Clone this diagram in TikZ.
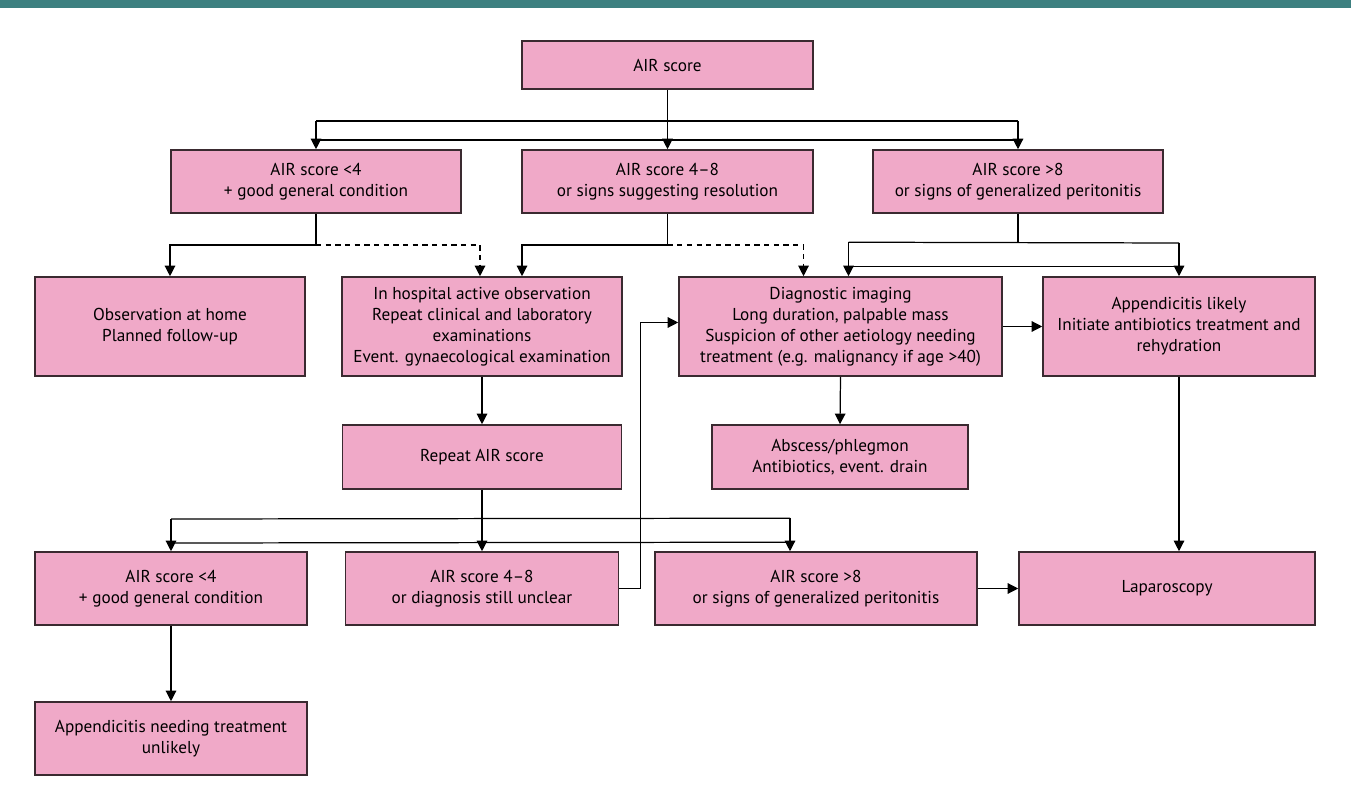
\documentclass[tikz,border=0pt]{standalone}
\usepackage{fontspec}
\setmainfont{PT Sans}
\usepackage{xcolor}
\definecolor{boxpink}{HTML}{F0A9C8}
\definecolor{boxline}{HTML}{3A2A30}
\definecolor{bartea}{HTML}{3D8080}
\usetikzlibrary{arrows.meta, calc, positioning}

\tikzset{
  box/.style={draw=boxline, fill=boxpink, line width=0.9pt, align=center, inner sep=2pt, font=\fontsize{9.8}{12}\selectfont},
  link/.style={line width=0.7pt, -{Triangle[length=6pt,width=6pt]}},
  bar/.style={line width=0.7pt},
  dashlink/.style={link, dash pattern=on 3pt off 2.5pt}
}

\begin{document}
\begin{tikzpicture}[x=0.02cm, y=-0.02cm]
  \useasboundingbox (0,0) rectangle (1351,803);
  % header bar
  \fill[bartea] (0,0) rectangle (1351,8);

  % boxes
  \node[box, minimum width=291*0.02cm, minimum height=48*0.02cm] (top) at (667.5,65) {AIR score};

  \node[box, minimum width=290*0.02cm, minimum height=63*0.02cm] (lowA) at (316,181.5) {AIR score <4\\+ good general condition};
  \node[box, minimum width=291*0.02cm, minimum height=63*0.02cm] (midA) at (667.5,181.5) {AIR score 4--8\\or signs suggesting resolution};
  \node[box, minimum width=290*0.02cm, minimum height=63*0.02cm] (highA) at (1018,181.5) {AIR score >8\\or signs of generalized peritonitis};

  \node[box, minimum width=270*0.02cm, minimum height=99*0.02cm] (home) at (170,326.5) {Observation at home\\Planned follow-up};
  \node[box, minimum width=280*0.02cm, minimum height=99*0.02cm] (hosp) at (482,326.5) {In hospital active observation\\Repeat clinical and laboratory\\examinations\\Event. gynaecological examination};
  \node[box, minimum width=323*0.02cm, minimum height=99*0.02cm] (imag) at (840.5,326.5) {Diagnostic imaging\\Long duration, palpable mass\\Suspicion of other aetiology needing\\treatment (e.g. malignancy if age >40)};
  \node[box, minimum width=272*0.02cm, minimum height=99*0.02cm] (likely) at (1179,326.5) {Appendicitis likely\\Initiate antibiotics treatment and\\rehydration};

  \node[box, minimum width=279*0.02cm, minimum height=64*0.02cm] (repeat) at (482,457) {Repeat AIR score};
  \node[box, minimum width=256*0.02cm, minimum height=64*0.02cm] (absc) at (840,457) {Abscess/phlegmon\\Antibiotics, event. drain};

  \node[box, minimum width=272*0.02cm, minimum height=73*0.02cm] (lowB) at (171,588.5) {AIR score <4\\+ good general condition};
  \node[box, minimum width=273*0.02cm, minimum height=73*0.02cm] (midB) at (482,588.5) {AIR score 4--8\\or diagnosis still unclear};
  \node[box, minimum width=322*0.02cm, minimum height=73*0.02cm] (highB) at (816,588.5) {AIR score >8\\or signs of generalized peritonitis};
  \node[box, minimum width=296*0.02cm, minimum height=73*0.02cm] (lap) at (1167,588.5) {Laparoscopy};

  \node[box, minimum width=272*0.02cm, minimum height=73*0.02cm] (unlik) at (171,738.5) {Appendicitis needing treatment\\unlikely};

  % first split
  \draw[link] (top.south) -- (midA.north);
  \draw[link] (lowA.north |- 0,121) -- (lowA.north);
  \draw[link] (highA.north |- 0,121) -- (highA.north);
  \draw[bar] (lowA.north |- 0,121) -- (highA.north |- 0,121);
  \draw[bar] (lowA.north |- 0,140) -- (highA.north |- 0,140);

  % from low score
  \coordinate (lowJ) at (lowA.south |- 0,245);
  \draw[bar] (lowA.south) -- (lowJ);
  \draw[link] (lowJ) -| (home.north);
  \draw[dashlink] (lowJ) -| ($(hosp.north)+(-2,0)$);

  % from mid score
  \coordinate (midJ) at (midA.south |- 0,245);
  \draw[bar] (midA.south) -- (midJ);
  \draw[link] (midJ) -| ($(hosp.north)+(40,0)$);
  \draw[dashlink] (midJ) -| ($(imag.north)+(-37,0)$);

  % from high score
  \coordinate (highJ) at (highA.south |- 0,243);
  \draw[bar] (highA.south) -- (highJ);
  \draw[link] ($(imag.north)+(8,-34)$) -- ($(imag.north)+(8,0)$);
  \draw[link] (likely.north |- 0,243) -- (likely.north);
  \draw[bar] ($(imag.north)+(8,-34)$) -- (likely.north |- 0,243);
  \draw[bar] ($(imag.north)+(8,-10)$) -- ($(likely.north)+(0,-10)$);

  \draw[link] (hosp.south) -- (repeat.north);
  \draw[link] (imag.south) -- (absc.north);
  \draw[link] (imag.east) -- (likely.west);
  \draw[link] (likely.south) -- (likely.south |- lap.north);

  % second split
  \draw[link] (repeat.south) -- (midB.north);
  \draw[link] (lowB.north |- 0,519) -- (lowB.north);
  \draw[link] ($(highB.north)+(-26,-33)$) -- ($(highB.north)+(-26,0)$);
  \draw[bar] (lowB.north |- 0,519) -- ($(highB.north)+(-26,-33)$);
  \draw[bar] (lowB.north |- 0,543) -- ($(highB.north)+(-26,-9)$);

  \draw[link] (lowB.south) -- (unlik.north);
  \draw[link] (midB.east) -- ++(21,0) |- ($(imag.west)+(0,-4)$);
  \draw[link] (highB.east) -- (lap.west);
\end{tikzpicture}
\end{document}
